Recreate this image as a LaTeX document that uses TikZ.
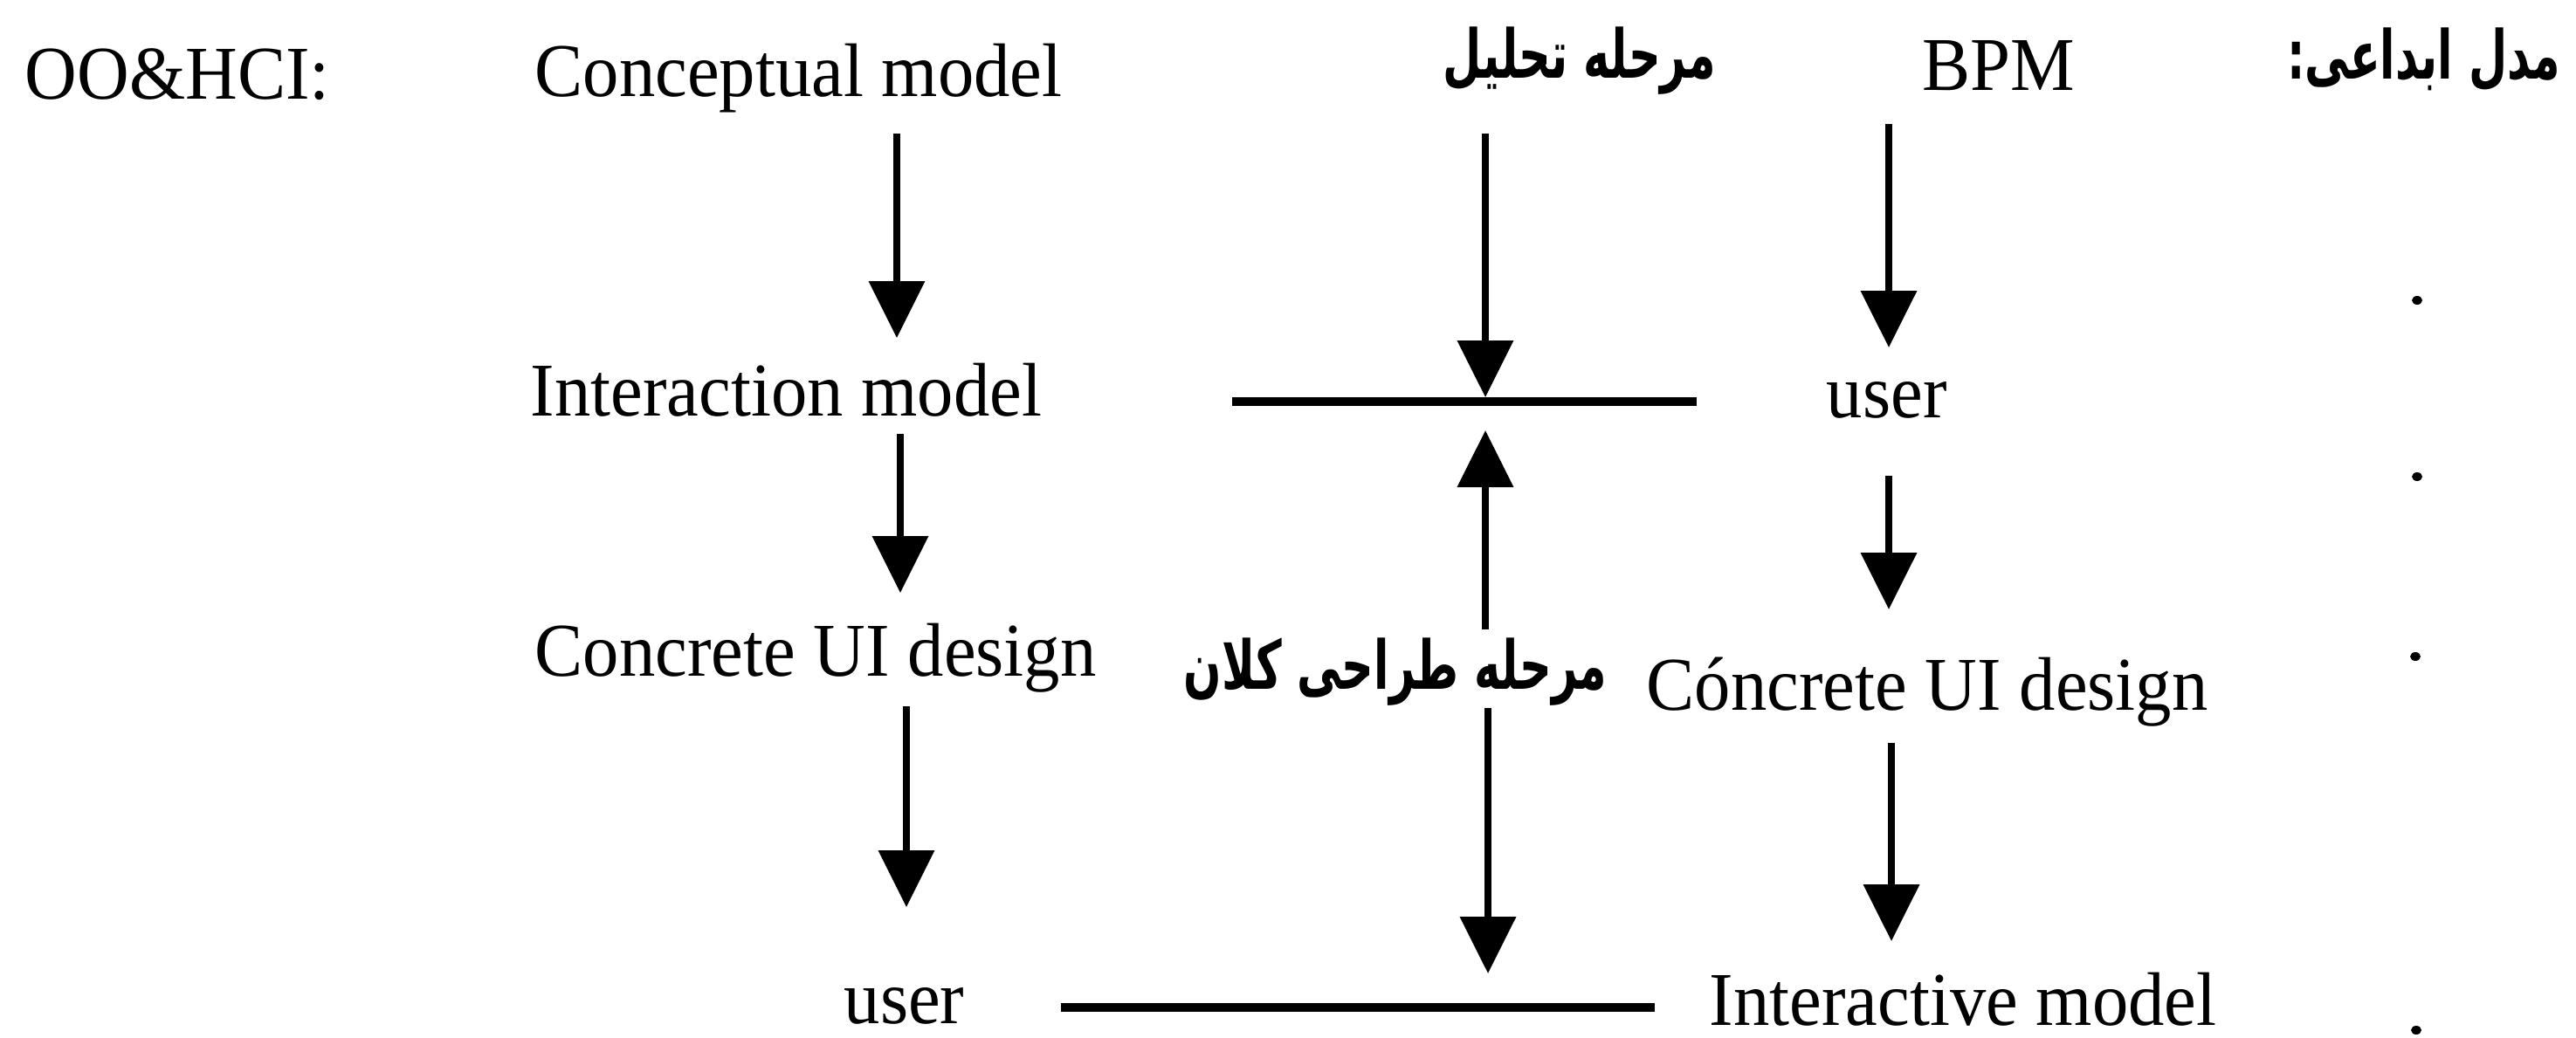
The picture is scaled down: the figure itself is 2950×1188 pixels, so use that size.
\documentclass[tikz,border=0pt]{standalone}
\usepackage{fontspec}
\setmainfont{Liberation Serif}[FakeStretch=0.95]
\newfontfamily\arabicfont[Script=Arabic,FakeStretch=0.66]{DejaVu Sans}
\TeXXeTstate=1
\usetikzlibrary{arrows.meta}
\begin{document}
\begin{tikzpicture}[x=0.25pt,y=-0.25pt,
  lbl/.style={inner sep=0pt, anchor=base west, font=\fontsize{21.75pt}{26pt}\selectfont},
  ar/.style={inner sep=0pt, font=\arabicfont\bfseries\fontsize{19.3pt}{22pt}\selectfont},
  arr/.style={line width=1.8pt, -{Triangle[width=15.75pt,length=16.25pt]}},
  hline/.style={line width=2.5pt},
  dotm/.style={fill=black}]
\useasboundingbox (0,0) rectangle (2950,1188);
% labels
\node[lbl] (oo) at (28,113) {OO\&HCI:};
\node[lbl] (cm) at (612,110) {Conceptual model};
\node[lbl] (im) at (607,476) {Interaction model};
\node[lbl] (cl) at (612,774) {Concrete UI design};
\node[lbl] (ul) at (966,1172) {user};
\node[ar] (an) at (1809,70) {\beginR مرحله تحلیل\endR};
\node[lbl] (bpm) at (2201,103) {BPM};
\node[ar, anchor=east] (md) at (2933,68) {\beginR مدل ابداعی:\endR};
\node[lbl] (ur) at (2091,478) {user};
\node[ar] (dp) at (1598,770) {\beginR مرحله طراحی کلان\endR};
\node[lbl] (cr) at (1885,813) {Cóncrete UI design};
\node[lbl] (ia) at (1957,1174) {Interactive model};
% horizontal bars
\coordinate (h1a) at (1411,460); \coordinate (h1b) at (1943,460);
\coordinate (h2a) at (1215,1154); \coordinate (h2b) at (1895,1154);
\draw[hline] (h1a) -- (h1b);
\draw[hline] (h2a) -- (h2b);
% arrow end points
\coordinate (a1s) at (1027,153); \coordinate (a1e) at (1027,387);
\coordinate (a2s) at (1031,497); \coordinate (a2e) at (1031,679);
\coordinate (a3s) at (1038,809); \coordinate (a3e) at (1038,1039);
\coordinate (aAs) at (1701,153); \coordinate (aAe) at (1701,455);
\coordinate (aUs) at (1701,721); \coordinate (aUe) at (1701,493);
\coordinate (aDs) at (1704,811); \coordinate (aDe) at (1704,1115);
\coordinate (aBs) at (2163,142); \coordinate (aBe) at (2163,398);
\coordinate (aCs) at (2163,545); \coordinate (aCe) at (2163,698);
\coordinate (aEs) at (2166,851); \coordinate (aEe) at (2166,1078);
\draw[arr] (a1s) -- (a1e);
\draw[arr] (a2s) -- (a2e);
\draw[arr] (a3s) -- (a3e);
\draw[arr] (aAs) -- (aAe);
\draw[arr] (aUs) -- (aUe);
\draw[arr] (aDs) -- (aDe);
\draw[arr] (aBs) -- (aBe);
\draw[arr] (aCs) -- (aCe);
\draw[arr] (aEs) -- (aEe);
% dots
\coordinate (d1) at (2768,344); \coordinate (d2) at (2768,546);
\coordinate (d3) at (2766,752); \coordinate (d4) at (2767,1180);
\foreach \d in {d1,d2,d3,d4} \fill[dotm] (\d) ellipse [x radius=6, y radius=5];
\end{tikzpicture}
\end{document}
